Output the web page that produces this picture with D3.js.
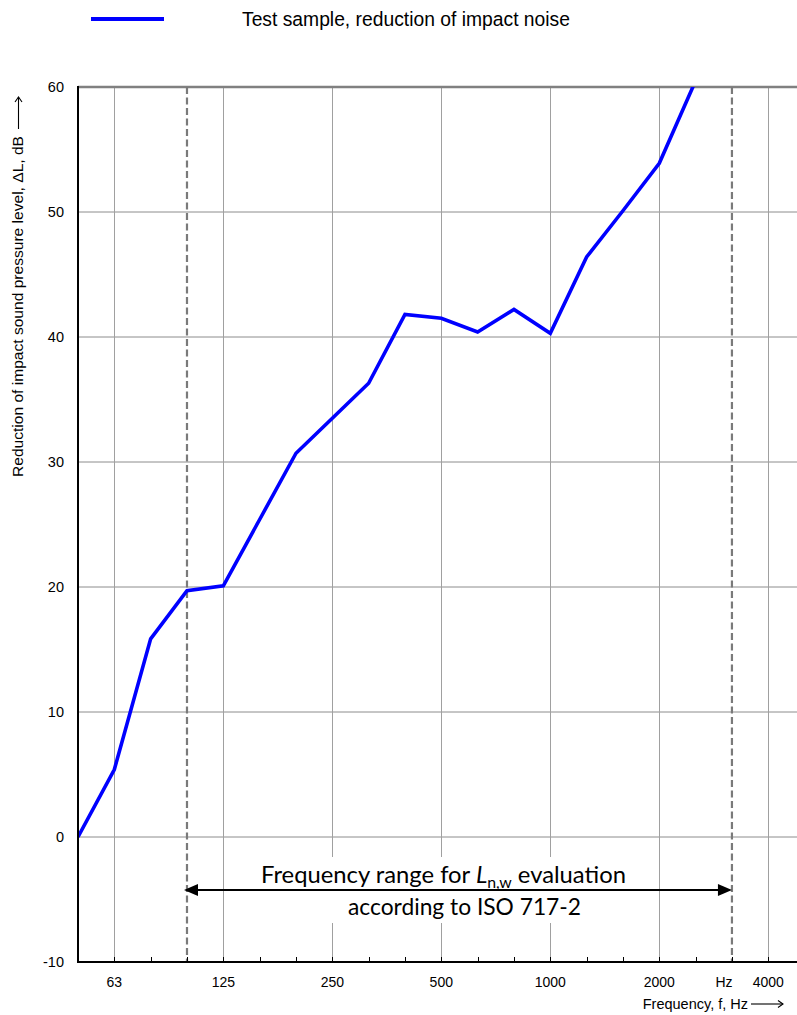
<!DOCTYPE html>
<html>
<head>
<meta charset="utf-8">
<script src="https://cdn.jsdelivr.net/npm/d3@7"></script>
<style>
  html, body { margin: 0; padding: 0; background: #fff; }
  svg { display: block; }
</style>
</head>
<body>
<div id="chart"></div>
<script>
// One-third-octave band centre frequencies (Hz) used for the x positions
const bands = ["50","63","80","100","125","160","200","250","315","400","500",
               "630","800","1000","1250","1600","2000","2500","3150","4000","5000"];

// Measured reduction of impact sound pressure level, ΔL (dB)
const sampleBands  = ["50","63","80","100","125","160","200","250","315","400","500",
                      "630","800","1000","1250","1600","2000","2500"];
const sampleValues = [0.0, 5.4, 15.85, 19.7, 20.1, 25.4, 30.7, 33.5, 36.3, 41.8, 41.5,
                      40.4, 42.2, 40.3, 46.4, 50.1, 53.9, 60.5];

// Labelled bands on the frequency axis
const gridBands  = ["63","125","250","500","1000","2000","4000"];
const tickLabels = ["63","125","250","500","1000","2000","4000"];

// Boundaries of the evaluation range (ISO 717-2)
const rangeBands = ["100","3150"];

// Level axis ticks
const yTicks = [-10, 0, 10, 20, 30, 40, 50, 60];

const W = 797, H = 1015;
const plotLeft = 78, plotTop = 87, plotBottom = 962;
const bandStep = 36.33;

const svg = d3.select("#chart").append("svg")
  .attr("width", W).attr("height", H)
  .style("font-family", "'Liberation Sans', Arial, sans-serif");

const x = d3.scalePoint().domain(bands).range([plotLeft, plotLeft + bandStep * (bands.length - 1)]);
const y = d3.scaleLinear().domain([-10, 60]).range([plotBottom, plotTop]);

// Horizontal grid
svg.append("g").selectAll("line").data(yTicks.filter(d => d > -10 && d < 60)).join("line")
  .attr("x1", plotLeft).attr("x2", W)
  .attr("y1", d => y(d)).attr("y2", d => y(d))
  .attr("stroke", "#8c8c8c").attr("stroke-width", 1);

// Vertical grid at octave bands
svg.append("g").selectAll("line").data(gridBands).join("line")
  .attr("x1", d => Math.round(x(d)) + 0.5).attr("x2", d => Math.round(x(d)) + 0.5)
  .attr("y1", plotTop).attr("y2", plotBottom)
  .attr("stroke", "#a0a0a0").attr("stroke-width", 1);

// Top border line at 60 dB
svg.append("line")
  .attr("x1", plotLeft).attr("x2", W).attr("y1", y(60)).attr("y2", y(60))
  .attr("stroke", "#808080").attr("stroke-width", 2.5);

// White box behind the range annotation
svg.append("rect")
  .attr("x", 254).attr("y", 857).attr("width", 378).attr("height", 66)
  .attr("fill", "#fff");

// Dashed range boundaries
svg.append("g").selectAll("line").data(rangeBands).join("line")
  .attr("x1", d => x(d)).attr("x2", d => x(d))
  .attr("y1", plotTop).attr("y2", plotBottom)
  .attr("stroke", "#7a7a7a").attr("stroke-width", 2.2)
  .attr("stroke-dasharray", "7,3.5");

// Data line, clipped to the plotting area
svg.append("clipPath").attr("id", "plotClip").append("rect")
  .attr("x", plotLeft).attr("y", plotTop).attr("width", W - plotLeft).attr("height", plotBottom - plotTop);

const line = d3.line()
  .x((d, i) => x(sampleBands[i]))
  .y(d => y(d));

svg.append("path")
  .datum(sampleValues)
  .attr("clip-path", "url(#plotClip)")
  .attr("d", line)
  .attr("fill", "none")
  .attr("stroke", "#0000ff")
  .attr("stroke-width", 3.6)
  .attr("stroke-linejoin", "miter");

// Bottom axis line with 1/3-octave ticks
svg.append("line")
  .attr("x1", plotLeft).attr("x2", W).attr("y1", plotBottom).attr("y2", plotBottom)
  .attr("stroke", "#000").attr("stroke-width", 2);
svg.append("g").selectAll("line").data(bands).join("line")
  .attr("x1", d => Math.round(x(d)) + 0.5).attr("x2", d => Math.round(x(d)) + 0.5)
  .attr("y1", plotBottom).attr("y2", plotBottom - 5)
  .attr("stroke", "#000").attr("stroke-width", 1);

// Left axis line
svg.append("line")
  .attr("x1", plotLeft).attr("x2", plotLeft).attr("y1", plotTop - 1).attr("y2", plotBottom + 1)
  .attr("stroke", "#000").attr("stroke-width", 2);

// Y tick labels
svg.append("g").selectAll("text").data(yTicks).join("text")
  .attr("x", 64).attr("y", d => y(d)).attr("dy", "0.35em")
  .attr("text-anchor", "end").attr("font-size", 14.5).attr("fill", "#000")
  .text(d => d);

// X tick labels
svg.append("g").selectAll("text").data(tickLabels).join("text")
  .attr("x", d => x(d)).attr("y", 987)
  .attr("text-anchor", "middle").attr("font-size", 14).attr("fill", "#000")
  .text(d => d);
svg.append("text")
  .attr("x", 724).attr("y", 987).attr("text-anchor", "middle")
  .attr("font-size", 14).text("Hz");

// Long arrow used after the axis titles
function titleArrow(g, len) {
  g.append("line").attr("x1", 0).attr("x2", len).attr("y1", 0).attr("y2", 0)
    .attr("stroke", "#000").attr("stroke-width", 1.1);
  g.append("path").attr("d", `M${len - 5},-3.5 L${len},0 L${len - 5},3.5`)
    .attr("fill", "none").attr("stroke", "#000").attr("stroke-width", 1.1);
}

// X axis title
svg.append("text")
  .attr("x", 748).attr("y", 1009).attr("text-anchor", "end")
  .attr("font-size", 14.5).text("Frequency, f, Hz");
titleArrow(svg.append("g").attr("transform", "translate(751,1004)"), 32);

// Y axis title
svg.append("text")
  .attr("transform", "translate(23,477) rotate(-90)")
  .attr("text-anchor", "start").attr("font-size", 15)
  .attr("textLength", 341).attr("lengthAdjust", "spacingAndGlyphs")
  .text("Reduction of impact sound pressure level, \u0394L, dB");
titleArrow(svg.append("g").attr("transform", "translate(18.5,129) rotate(-90)"), 32);

// Legend
svg.append("line")
  .attr("x1", 91).attr("x2", 164).attr("y1", 19).attr("y2", 19)
  .attr("stroke", "#0000ff").attr("stroke-width", 4);
svg.append("text")
  .attr("x", 242).attr("y", 26).attr("font-size", 19.3)
  .text("Test sample, reduction of impact noise");

// Evaluation range arrow
const arrowY = 890;
const xa = x(rangeBands[0]), xb = x(rangeBands[1]);
svg.append("line")
  .attr("x1", xa + 10).attr("x2", xb - 10).attr("y1", arrowY).attr("y2", arrowY)
  .attr("stroke", "#000").attr("stroke-width", 2);
svg.append("path")
  .attr("d", `M${xa - 3},${arrowY} L${xa + 11},${arrowY - 6} L${xa + 11},${arrowY + 6} Z`)
  .attr("fill", "#000");
svg.append("path")
  .attr("d", `M${xb},${arrowY} L${xb - 14},${arrowY - 6} L${xb - 14},${arrowY + 6} Z`)
  .attr("fill", "#000");

const annot = svg.append("g")
  .style("font-family", "Lato, 'Open Sans', sans-serif")
  .attr("font-size", 22.5).attr("fill", "#000");
const t1 = annot.append("text").attr("x", 261).attr("y", 883)
  .attr("textLength", 365).attr("lengthAdjust", "spacingAndGlyphs");
t1.append("tspan").text("Frequency range for ");
t1.append("tspan").attr("font-style", "italic").text("L");
t1.append("tspan").attr("font-size", 15).attr("dy", 5).text("n,w");
t1.append("tspan").attr("dy", -5).text(" evaluation");
annot.append("text").attr("x", 348).attr("y", 915)
  .attr("textLength", 233).attr("lengthAdjust", "spacingAndGlyphs")
  .text("according to ISO 717-2");
</script>
</body>
</html>
